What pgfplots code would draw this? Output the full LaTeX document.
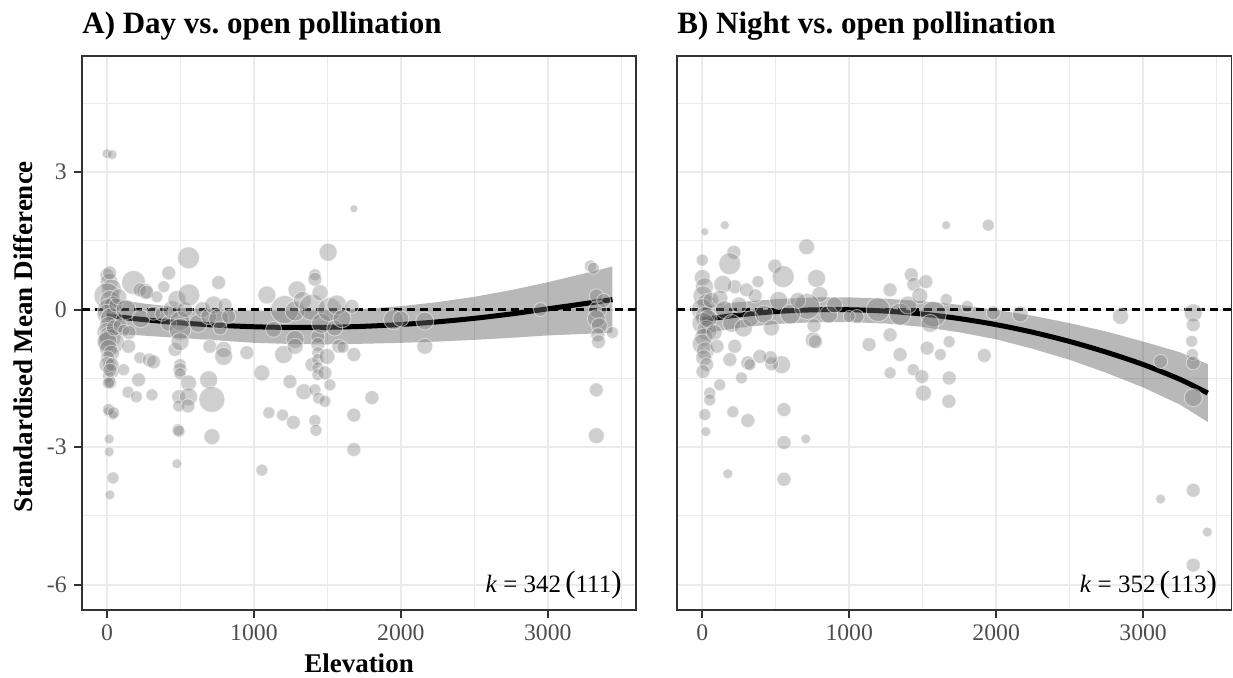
\documentclass[border=0pt]{standalone}
\usepackage{pgfplots}
\pgfplotsset{compat=1.18}
\usepackage{fontspec}
\setmainfont{Liberation Serif}
\definecolor{gridc}{HTML}{EBEBEB}
\definecolor{framec}{HTML}{333333}
\definecolor{ticklab}{HTML}{4D4D4D}

\pgfplotstableread{
x y r
0 3.40 4
35 3.38 4
0 0.75 6
15 0.6 8
30 0.45 9
0 0.3 12
20 0.2 9
40 0.1 8
10 0.0 10
0 -0.1 9
30 -0.2 10
10 -0.35 8
0 -0.5 9
20 -0.6 10
30 -0.7 12
0 -0.7 9
10 -0.85 8
30 -0.95 7
5 -1.05 6
20 -1.2 6
35 -1.35 6
10 -1.45 5
25 -1.6 5
0 -1.2 7
50 -0.4 7
60 0.1 6
80 0.28 7
90 -0.35 6
115 -0.45 5
18 0.8 6
150 -0.5 6
7 -2.23 4
41 -2.3 4
12 -2.18 5
45 -2.25 5
15 -2.82 4
15 -3.1 4
41 -3.67 5
20 -4.04 4
20 -1.57 5
10 -1.6 5
35 -1.2 6
20 -1.32 6
113 -1.31 5
147 -0.8 6
143 -1.8 5
200 -1.9 5
215 -1.53 6
224 -1.05 5
288 -1.1 6
317 -1.14 6
306 -1.86 5
181 0.59 11
130 0.0 9
230 -0.2 8
260 0.4 7
224 0.43 6
270 0.38 6
317 -0.08 6
340 0.28 5
374 -0.1 6
387 0.5 5
420 0.8 6
420 -0.3 7
442 0.0 8
463 -0.87 6
476 0.22 8
497 -0.25 9
497 -0.43 10
497 -0.7 8
497 -1.2 5
497 -1.31 6
497 -1.4 5
488 -1.9 6
488 -2.1 5
483 -2.62 5
490 -2.65 5
476 -3.36 4
530 0.0 7
555 1.13 10
557 0.32 10
555 -1.6 7
555 -1.9 8
551 -2.1 6
620 -0.3 8
650 0.0 7
692 -0.15 7
700 -0.8 6
692 -1.53 8
714 -1.96 12
714 -2.77 7
726 0.1 8
760 0.59 6
760 -0.2 9
770 -0.4 6
794 -0.87 7
794 -1.02 8
803 0.1 6
828 -0.15 6
952 -0.94 6
1054 -1.38 7
1054 -3.5 5
1088 0.32 8
1102 -2.25 5
1134 -0.43 7
1195 -2.3 5
1202 -0.98 8
1209 0.0 13
1245 -1.57 6
1268 -2.46 6
1280 -0.03 9
1280 -0.65 8
1280 -0.8 7
1293 0.43 8
1330 0.2 8
1340 -1.79 7
1395 0.05 12
1395 -1.2 6
1415 0.76 5
1415 0.66 6
1415 -1.75 5
1415 -2.42 5
1422 -2.63 5
1435 -0.59 6
1435 -0.76 6
1435 -0.94 5
1435 -1.09 5
1435 -1.27 5
1435 -1.42 5
1440 -1.93 5
1450 0.37 7
1460 -0.3 9
1483 -1.38 6
1483 -2.0 5
1497 -1.02 7
1505 1.25 8
1515 0.0 11
1517 -1.64 5
1550 -0.4 7
1565 0.1 9
1578 -0.8 6
1600 -0.2 8
1605 -0.82 5
1667 0.07 6
1680 -0.98 6
1680 -2.3 6
1680 -3.05 6
1680 2.2 3
1803 -1.92 6
1950 -0.22 9
2000 -0.2 7
2163 -0.25 8
2163 -0.8 7
2950 0.0 6
3290 0.95 5
3310 0.9 5
3330 0.3 6
3340 0.0 8
3330 -0.2 8
3350 -0.35 7
3340 -0.55 6
3345 -0.7 6
3330 -1.75 6
3330 -2.75 7
3440 -0.5 5
3380 0.2 6
}\dataA

\pgfplotstableread{
x y r
0 1.08 5
17 1.7 3
153 1.84 3.5
1660 1.84 3.5
1946 1.84 5
215 1.25 6
187 1.0 10
710 1.37 7
494 0.95 6
550 0.72 10
778 0.68 8
379 0.61 5
221 0.5 6
140 0.55 8
301 0.43 6
800 0.33 7
713 0.07 12
1278 0.43 6
1422 0.76 6
1440 0.55 6
1521 0.61 6
1660 0.22 5
1803 0.07 5
1980 -0.07 6
1196 0.0 11
1346 -0.1 10
1572 -0.1 12
1053 -0.15 6
1000 -0.15 5
1135 -0.76 6
1278 -0.55 6
1346 -0.98 6
1278 -1.38 5
1435 -1.31 5
1494 -1.46 6
1505 -1.82 7
1680 -1.49 6
1678 -2.0 6
1620 -0.98 5
1680 -0.7 5
1919 -1.0 6
1530 -0.84 6
755 -0.66 7
770 -0.7 6
760 -0.35 6
540 -1.2 8
472 -1.18 6
464 -1.05 6
392 -1.02 6
310 -1.16 6
324 -1.2 5
267 -1.49 5
188 -1.09 6
221 -0.8 6
119 -1.64 5
51 -1.82 5
51 -1.97 5
17 -2.29 5
24 -2.66 4
208 -2.23 5
310 -2.42 6
556 -2.18 6
704 -2.82 4
556 -2.9 6
174 -3.58 4
556 -3.7 6
3119 -4.13 4
3341 -3.94 6
3437 -4.85 4
3341 -5.57 6
2846 -0.15 7
3119 -1.13 6
3341 -0.07 8
3341 -0.33 6
3330 -0.69 5
3335 -0.98 5
3341 -1.16 6
3341 -1.92 8
2164 -0.1 7
0 0.7 7
15 0.5 8
5 0.3 9
25 0.15 8
0 0.0 10
20 -0.15 9
5 -0.3 10
30 -0.45 9
10 -0.6 8
0 -0.75 9
20 -0.9 8
10 -1.05 7
30 -1.2 6
5 -1.35 6
40 -0.2 8
60 0.2 7
80 -0.5 7
100 -0.8 6
120 0.25 7
150 0.0 8
200 -0.3 8
250 0.1 7
280 -0.4 8
330 -0.2 7
360 0.3 6
420 -0.1 8
470 -0.4 7
520 0.2 8
600 -0.1 9
650 0.2 7
860 -0.1 8
900 0.1 7
1400 0.1 8
1480 0.3 7
1550 -0.3 8
}\dataB

\pgfplotsset{
  panel/.style={
    scale only axis, width=277.15pt, height=277pt, anchor=south west,
    xmin=-172, xmax=3600, ymin=-6.55, ymax=5.53,
    xtick={0,1000,2000,3000}, minor xtick={500,1500,2500,3500},
    ytick={-6,-3,0,3}, minor ytick={-4.5,-1.5,1.5,4.5},
    grid=both,
    major grid style={color=gridc, line width=1pt},
    minor grid style={color=gridc, line width=0.5pt},
    axis line style={color=framec, line width=0.8pt},
    tick align=outside, tick pos=left,
    major tick length=4pt, minor tick length=0pt,
    major tick style={color=framec, line width=1pt},
    scaled ticks=false,
    /pgf/number format/1000 sep={},
    /pgf/number format/assume math mode=true,
    tick label style={font=\fontsize{11.85}{12}\selectfont, text=ticklab},
    clip=true,
  },
  bub/.style={
    scatter, only marks, mark=*,
    point meta=\thisrow{r},
    scatter/use mapped color={draw=white, fill=black!50},
    visualization depends on={0.5*\thisrow{r}+0.5 \as \rad},
    scatter/@pre marker code/.append style={/tikz/mark size=\rad pt},
    mark options={fill opacity=0.38, draw opacity=0.5, line width=0.45pt},
  },
}

\begin{document}
\begin{tikzpicture}
\useasboundingbox (0,0) rectangle (616.5pt,338.5pt);

\begin{axis}[panel, at={(40.85pt,33.5pt)}]
\addplot[bub] table[x=x,y=y] {\dataA};
\addplot[fill=black, fill opacity=0.28, draw=none] coordinates {
(0,0.25) (250,0.132) (500,0.041) (750,-0.010) (1000,-0.024) (1250,-0.029) (1500,-0.016) (1750,0.016) (2000,0.075) (2250,0.163) (2500,0.280) (2750,0.425) (3000,0.597) (3250,0.79) (3440,0.94)
(3440,-0.50) (3250,-0.53) (3000,-0.563) (2750,-0.615) (2500,-0.660) (2250,-0.697) (2000,-0.725) (1750,-0.744) (1500,-0.756) (1250,-0.749) (1000,-0.724) (750,-0.670) (500,-0.619) (250,-0.568) (0,-0.51)
} -- cycle;
\addplot[black, line width=2.5pt, smooth] coordinates {
(0,-0.13) (250,-0.218) (500,-0.289) (750,-0.340) (1000,-0.374) (1250,-0.389) (1500,-0.386) (1750,-0.364) (2000,-0.325) (2250,-0.267) (2500,-0.190) (2750,-0.095) (3000,0.017) (3250,0.13) (3440,0.22)
};
\addplot[black, line width=1.2pt, dash pattern=on 4pt off 2.5pt] coordinates {(-172,0) (3600,0)};
\node[inner sep=0pt, anchor=base east, font=\fontsize{12.5}{12}\selectfont] at (rel axis cs:1,0) [xshift=-7pt, yshift=9pt] {\textit{k} = 342\,{\fontsize{15.5}{15}\selectfont(}111{\fontsize{15.5}{15}\selectfont)}};
\end{axis}

\begin{axis}[panel, at={(338.5pt,33.5pt)}, yticklabels={}, ytick style={draw=none}]
\addplot[bub] table[x=x,y=y] {\dataB};
\addplot[fill=black, fill opacity=0.28, draw=none] coordinates {
(0,0.08) (250,0.165) (500,0.227) (750,0.264) (1000,0.267) (1250,0.237) (1500,0.183) (1750,0.104) (2000,-0.008) (2250,-0.135) (2500,-0.295) (2750,-0.479) (3000,-0.697) (3250,-0.93) (3440,-1.19)
(3440,-2.45) (3250,-2.07) (3000,-1.697) (2750,-1.379) (2500,-1.095) (2250,-0.855) (2000,-0.648) (1750,-0.496) (1500,-0.377) (1250,-0.303) (1000,-0.273) (750,-0.276) (500,-0.313) (250,-0.395) (0,-0.52)
} -- cycle;
\addplot[black, line width=2.5pt, smooth] coordinates {
(0,-0.22) (250,-0.115) (500,-0.043) (750,-0.006) (1000,-0.003) (1250,-0.033) (1500,-0.097) (1750,-0.196) (2000,-0.328) (2250,-0.495) (2500,-0.695) (2750,-0.929) (3000,-1.197) (3250,-1.52) (3440,-1.82)
};
\addplot[black, line width=1.2pt, dash pattern=on 4pt off 2.5pt] coordinates {(-172,0) (3600,0)};
\node[inner sep=0pt, anchor=base east, font=\fontsize{12.5}{12}\selectfont] at (rel axis cs:1,0) [xshift=-7pt, yshift=9pt] {\textit{k} = 352\,{\fontsize{15.5}{15}\selectfont(}113{\fontsize{15.5}{15}\selectfont)}};
\end{axis}

\node[inner sep=0pt, anchor=base west, font=\bfseries\fontsize{15.5}{16}\selectfont] at (41pt,322pt) {A) Day vs.\ open pollination};
\node[inner sep=0pt, anchor=base west, font=\bfseries\fontsize{15.5}{16}\selectfont] at (338.5pt,322pt) {B) Night vs.\ open pollination};
\node[inner sep=0pt, anchor=base, font=\bfseries\fontsize{13.5}{14}\selectfont] at (179.5pt,2.5pt) {Elevation};
\node[inner sep=0pt, anchor=base, rotate=90, font=\bfseries\fontsize{13.5}{14}\selectfont] at (16.5pt,170pt) {Standardised Mean Difference};
\end{tikzpicture}
\end{document}
